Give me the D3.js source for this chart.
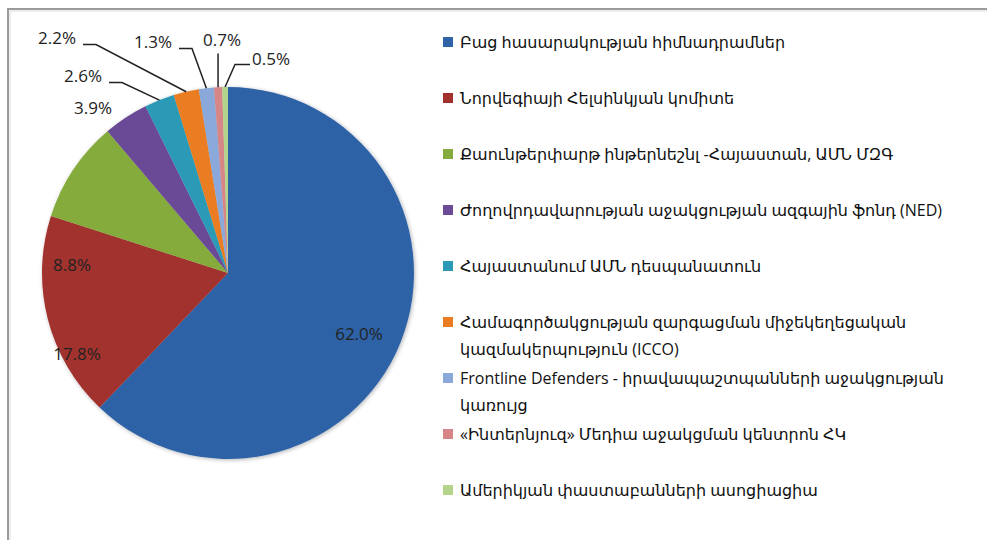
<!DOCTYPE html>
<html>
<head>
<meta charset="utf-8">
<script src="https://cdn.jsdelivr.net/npm/d3@7"></script>
<style>
  body { margin: 0; background: #fff; }
  svg { display: block; font-family: "Open Sans", "DejaVu Sans", sans-serif; }
</style>
</head>
<body>
<svg id="chart"></svg>
<script>
const donors = [
  "Բաց հասարակության հիմնադրամներ",
  "Նորվեգիայի Հելսինկյան կոմիտե",
  "Քաունթերփարթ ինթերնեշնլ -Հայաստան, ԱՄՆ ՄԶԳ",
  "Ժողովրդավարության աջակցության ազգային ֆոնդ (NED)",
  "Հայաստանում ԱՄՆ դեսպանատուն",
  "Համագործակցության զարգացման միջեկեղեցական\nկազմակերպություն (ICCO)",
  "Frontline Defenders - իրավապաշտպանների աջակցության\nկառույց",
  "«Ինտերնյուզ» Մեդիա աջակցման կենտրոն ՀԿ",
  "Ամերիկյան փաստաբանների ասոցիացիա"
];
const shares = [62.0, 17.8, 8.8, 3.9, 2.6, 2.2, 1.3, 0.7, 0.5];
const colors = ["#2f62a6", "#a2302d", "#86ab3d", "#6b4a96", "#2b9ab6", "#ea7d21", "#8aa8d9", "#d78688", "#b5d48b"];

const width = 987, height = 540;
const cx = 228, cy = 273, radius = 186;

// where each percent label sits, relative to the pie centre (picked off the original)
const labelSpots = [
  {dx: 131, dy: 60, leader: false},
  {dx: -151, dy: 80, leader: false},
  {dx: -156, dy: -9, leader: false},
  {dx: -135, dy: -166, leader: false},
  {dx: -145, dy: -198, leader: true},
  {dx: -171, dy: -236, leader: true},
  {dx: -75, dy: -232, leader: true},
  {dx: -6, dy: -234, leader: true},
  {dx: 43, dy: -215, leader: true}
];

const svg = d3.select("#chart")
              .attr("width", width)
              .attr("height", height);

// frame (only top and left edges show in the crop)
svg.append("path")
   .attr("d", `M8,${height} V9 H${width}`)
   .attr("fill", "none")
   .attr("stroke", "#9b9b9b")
   .attr("stroke-width", 2);
svg.append("path")
   .attr("d", `M10,${height} V11 H${width}`)
   .attr("fill", "none")
   .attr("stroke", "#dcdcdc")
   .attr("stroke-width", 1);

const defs = svg.append("defs");
const shadow = defs.append("filter").attr("id", "soft").attr("x", "-10%").attr("y", "-10%").attr("width", "120%").attr("height", "120%");
shadow.append("feGaussianBlur").attr("in", "SourceAlpha").attr("stdDeviation", 2);
shadow.append("feOffset").attr("dx", 1).attr("dy", 1).attr("result", "b");
shadow.append("feComponentTransfer").append("feFuncA").attr("type", "linear").attr("slope", 0.3);
const merge = shadow.append("feMerge");
merge.append("feMergeNode");
merge.append("feMergeNode").attr("in", "SourceGraphic");

const pie = d3.pie().sort(null).value(d => d);
const arcs = pie(shares);
const arc = d3.arc().innerRadius(0).outerRadius(radius);
const edge = d3.arc().innerRadius(radius).outerRadius(radius);

const g = svg.append("g").attr("transform", `translate(${cx},${cy})`);

g.append("g")
 .attr("filter", "url(#soft)")
 .selectAll("path")
 .data(arcs)
 .enter()
 .append("path")
 .attr("d", arc)
 .attr("fill", (d, i) => colors[i]);

const fmt = d3.format(".1f");
const labels = g.selectAll(".pct")
                .data(arcs)
                .enter()
                .append("text")
                .attr("class", "pct")
                .attr("x", (d, i) => labelSpots[i].dx)
                .attr("y", (d, i) => labelSpots[i].dy)
                .attr("text-anchor", "middle")
                .attr("dominant-baseline", "central")
                .attr("font-size", 17)
                .attr("fill", "#222")
                .text(d => fmt(d.data) + "%");

// leader lines for the thin slices
labels.each(function(d, i) {
  if (!labelSpots[i].leader) return;
  const box = this.getBBox();
  const p = edge.centroid(d);
  let pts;
  if (box.x + box.width / 2 < p[0] - 10) {
    const ax = box.x + box.width + 7, ay = box.y + box.height - 4;
    pts = [[ax, ay], [ax + 13, ay], p];
  } else if (box.x + box.width / 2 > p[0] + 10) {
    const ax = box.x - 2, ay = box.y + box.height - 5;
    pts = [[ax, ay], [ax - 15, ay], p];
  } else {
    pts = [[p[0], box.y + box.height + 3], p];
  }
  g.append("path")
   .attr("d", d3.line()(pts))
   .attr("fill", "none")
   .attr("stroke", "#222")
   .attr("stroke-width", 1.5);
});

// legend
const legendY = d3.scalePoint().domain(d3.range(donors.length)).range([42, 490]);
const legend = svg.append("g")
                  .selectAll("g")
                  .data(donors)
                  .enter()
                  .append("g")
                  .attr("transform", (d, i) => `translate(443,${legendY(i)})`);

legend.append("rect")
      .attr("y", -5)
      .attr("width", 10)
      .attr("height", 10)
      .attr("fill", (d, i) => colors[i]);

legend.append("text")
      .attr("x", 17)
      .attr("font-size", 16)
      .attr("fill", "#111")
      .selectAll("tspan")
      .data(d => d.split("\n"))
      .enter()
      .append("tspan")
      .attr("x", 17)
      .attr("y", (d, j) => j * 27)
      .attr("dominant-baseline", "central")
      .text(d => d);
</script>
</body>
</html>
